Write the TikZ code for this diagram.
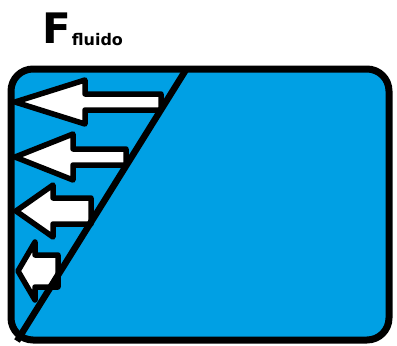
\documentclass[tikz,border=0pt]{standalone}
\usepackage{fontspec}
\setmainfont{DejaVu Sans}
\definecolor{fluido}{RGB}{0,160,228}
\tikzset{caja/.style={line width=7pt, rounded corners=22pt}}
\tikzset{flecha/.style={draw=black, fill=white, line width=5.5pt, line join=round}}
\tikzset{pared/.style={line width=6.5pt}}

\begin{document}
\begin{tikzpicture}[x=1pt,y=-1pt]
\useasboundingbox (0,0) rectangle (397,346);

\node[anchor=base west, inner sep=0pt, font=\bfseries\fontsize{42}{42}\selectfont] (F) at (42,43) {F};
\node[anchor=base west, inner sep=0pt, font=\bfseries\fontsize{16}{16}\selectfont] (sub) at ([xshift=0.5pt,yshift=-2pt]F.base east) {fluido};

\fill[fluido, rounded corners=22pt] (11,69) rectangle (389,340);

\foreach \tx/\yc/\hx/\hh/\sx/\sh in {15/102/85/22/161/8, 15/157/73/23/126/8, 16/211/53/26/91/13, 18/271/35/29/58/16}
  \draw[flecha] (\tx,\yc) -- (\hx,\yc-\hh) -- (\hx,\yc-\sh) -- (\sx,\yc-\sh)
    -- (\sx,\yc+\sh) -- (\hx,\yc+\sh) -- (\hx,\yc+\hh) -- cycle;

\draw[pared] (187,68) -- (17,341);

\draw[caja] (11,69) rectangle (389,340);
\end{tikzpicture}
\end{document}
